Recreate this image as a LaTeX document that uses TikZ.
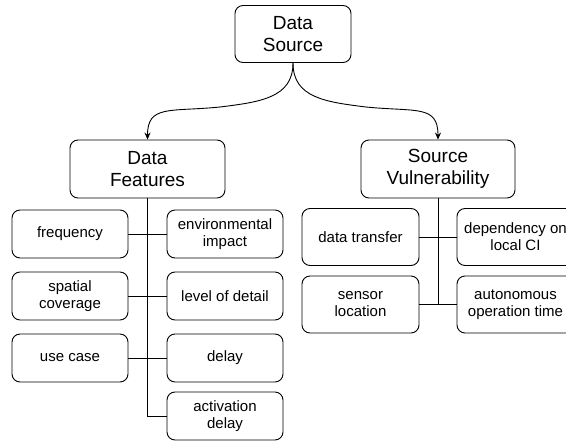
\documentclass[tikz,border=0pt]{standalone}
\usepackage{fontspec}
\setmainfont{Liberation Sans}
\usetikzlibrary{positioning, arrows.meta}

\begin{document}
\begin{tikzpicture}[
                x=1pt, y=-1pt,
                >={Stealth[length=7pt, width=6pt]},
                line width=0.9pt,
                head/.style={draw, rounded corners=8pt, align=center, minimum width=155pt, minimum height=58pt, inner sep=2pt, font=\fontsize{19}{22}\selectfont},
                leaf/.style={draw, rounded corners=8pt, align=center, minimum width=116pt, minimum height=48pt, inner sep=2pt, font=\fontsize{15}{17}\selectfont},
            ]
                \useasboundingbox (0,0) rectangle (566,440);

                % Draw the top node and the two branch nodes
                \node[head, minimum width=116pt, minimum height=57pt] (ds) at (293,34) {Data\\Source};
                \node[head] (df) at (147.5,169) {Data\\Features};
                \node[head, minimum width=154pt] (sv) at (438,169) {Source\\Vulnerability};

                % Draw the feature leaves
                \foreach \name/\x/\y/\txt in {freq/70/234/frequency, spat/70/296/{spatial\\coverage}, use/70/358/{use case},
                        env/225/234/{environmental\\impact}, lod/225/296/{level of detail}, delay/225/358/delay,
                        act/225/416/{activation\\delay}}
                    \node[leaf] (\name) at (\x,\y) {\txt};

                % Draw the vulnerability leaves
                \foreach \name/\x/\y/\txt in {dt/360.5/237/{data transfer}, dep/515.5/237/{dependency on\\local CI},
                        sl/360.5/304.5/{sensor\\location}, aot/515.5/304.5/{autonomous\\operation time}}
                    \node[leaf, minimum width=117pt, minimum height=57pt] (\name) at (\x,\y) {\txt};

                % Connect the top node with the branch nodes
                \draw[->] (ds.south) .. controls +(0,35) and +(40,-5) .. (220,107)
                    .. controls +(-50,5) and +(0,-35) .. (df.north);
                \draw[->] (ds.south) .. controls +(0,35) and +(-40,-5) .. (366,107)
                    .. controls +(50,5) and +(0,-35) .. (sv.north);

                % Connect the leaves to their trunk
                \draw (df.south) |- (act.west);
                \foreach \source/\dest in {freq/env, spat/lod, use/delay}
                    \draw (\source.east) -- (\dest.west);
                \draw (sv.south) -- (sv.south |- sl.east);
                \foreach \source/\dest in {dt/dep, sl/aot}
                    \draw (\source.east) -- (\dest.west);
            \end{tikzpicture}
\end{document}
